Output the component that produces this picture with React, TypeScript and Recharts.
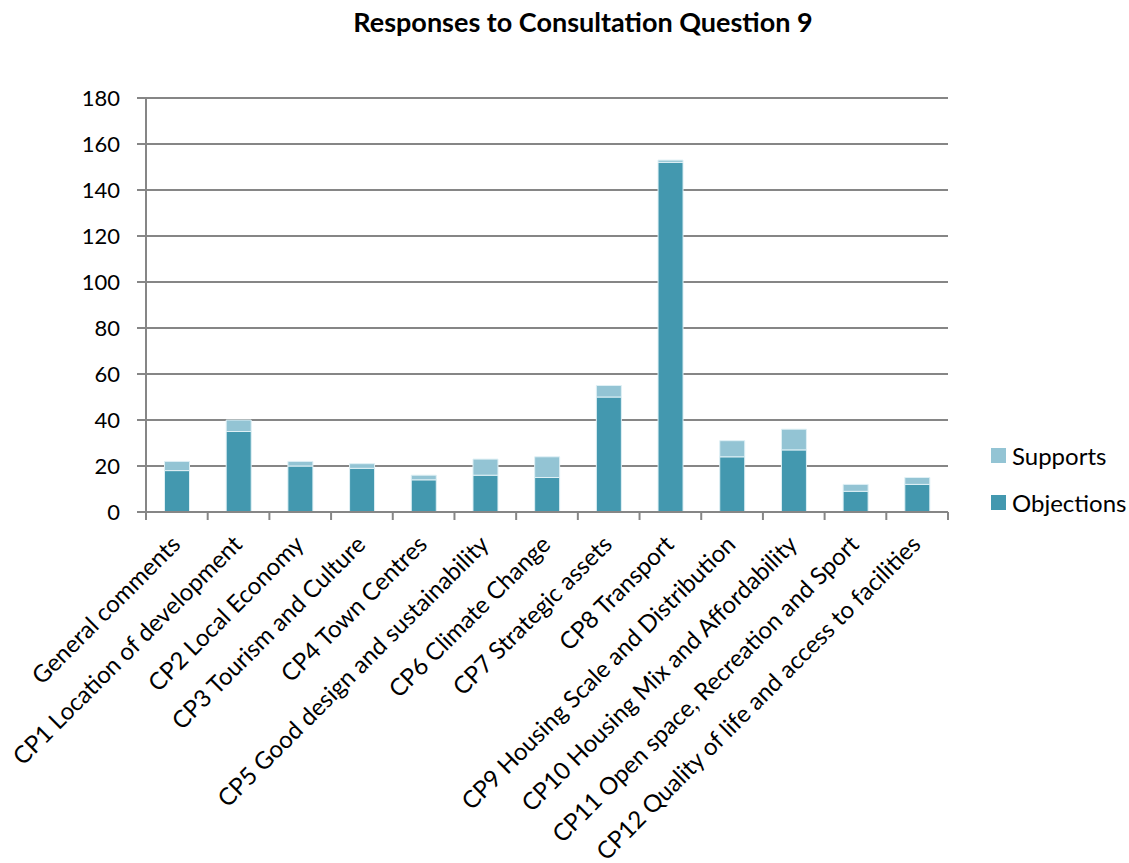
import React from "react";
import { Bar, BarChart, CartesianGrid, XAxis, YAxis } from "recharts";

const CATEGORIES = [
  "General comments",
  "CP1 Location of development",
  "CP2 Local Economy",
  "CP3 Tourism and Culture",
  "CP4 Town Centres",
  "CP5 Good design and sustainability",
  "CP6 Climate Change",
  "CP7 Strategic assets",
  "CP8 Transport",
  "CP9 Housing Scale and Distribution",
  "CP10 Housing Mix and Affordability",
  "CP11 Open space, Recreation and Sport",
  "CP12 Quality of life and access to facilities",
];

const OBJECTIONS = [18, 35, 20, 19, 14, 16, 15, 50, 152, 24, 27, 9, 12];
const SUPPORTS = [4, 5, 2, 2, 2, 7, 9, 5, 1, 7, 9, 3, 3];

const Y_TICKS = [0, 20, 40, 60, 80, 100, 120, 140, 160, 180];

const OBJ_COLOR = "#4398AF";
const SUP_COLOR = "#93C4D4";
const LINE_COLOR = "#868686";
const FONT = "Lato, 'Open Sans', sans-serif";

const PLOT_WIDTH = 802;
const BAND = PLOT_WIDTH / CATEGORIES.length;

const data = CATEGORIES.map((name, i) => ({
  name,
  objections: OBJECTIONS[i],
  supports: SUPPORTS[i],
}));

// Excel-style category tick: marks sit between categories, labels at -45deg
function CategoryTick(props: any) {
  const { x, y, payload, index } = props;
  const last = index === CATEGORIES.length - 1;
  return (
    <g>
      <line
        x1={x - BAND / 2}
        x2={x - BAND / 2}
        y1={y}
        y2={y + 8}
        stroke={LINE_COLOR}
        strokeWidth={2}
      />
      {last && (
        <line
          x1={x + BAND / 2}
          x2={x + BAND / 2}
          y1={y}
          y2={y + 8}
          stroke={LINE_COLOR}
          strokeWidth={2}
        />
      )}
      <text
        transform={`translate(${x + 5},${y + 34}) rotate(-45)`}
        textAnchor="end"
        fontFamily={FONT}
        fontSize={24}
        fill="#000"
      >
        {payload.value}
      </text>
    </g>
  );
}

function SideLegend() {
  const items = [
    { label: "Supports", color: SUP_COLOR },
    { label: "Objections", color: OBJ_COLOR },
  ];
  return (
    <div
      style={{
        position: "absolute",
        left: 991,
        top: 432,
        fontFamily: FONT,
        fontSize: 24,
        color: "#000",
      }}
    >
      {items.map((it) => (
        <div
          key={it.label}
          style={{ display: "flex", alignItems: "center", height: 47 }}
        >
          <span
            style={{
              display: "inline-block",
              width: 15,
              height: 15,
              background: it.color,
              marginRight: 6,
            }}
          />
          {it.label}
        </div>
      ))}
    </div>
  );
}

export default function App() {
  return (
    <div
      style={{
        position: "absolute",
        left: 0,
        top: 0,
        width: 1129,
        height: 863,
        background: "#fff",
      }}
    >
      <div
        style={{
          position: "absolute",
          left: 0,
          top: 5,
          width: 1166,
          textAlign: "center",
          fontFamily: FONT,
          fontWeight: "bold",
          fontSize: 27,
        }}
      >
        Responses to Consultation Question 9
      </div>
      <BarChart
        width={1129}
        height={863}
        data={data}
        margin={{ top: 98, right: 181, bottom: 0, left: 0 }}
        barCategoryGap="30%"
      >
        <CartesianGrid vertical={false} stroke={LINE_COLOR} strokeWidth={2} />
        <XAxis
          dataKey="name"
          interval={0}
          height={351}
          tickLine={false}
          tickSize={0}
          tickMargin={0}
          axisLine={{ stroke: LINE_COLOR, strokeWidth: 2 }}
          tick={<CategoryTick />}
        />
        <YAxis
          width={146}
          domain={[0, 180]}
          ticks={Y_TICKS}
          interval={0}
          tickSize={9}
          tickMargin={17}
          tickLine={{ stroke: LINE_COLOR, strokeWidth: 2 }}
          axisLine={{ stroke: LINE_COLOR, strokeWidth: 2 }}
          tick={{ fill: "#000", fontFamily: FONT, fontSize: 22 }}
        />
        <Bar
          dataKey="objections"
          name="Objections"
          stackId="a"
          fill={OBJ_COLOR}
          stroke="#dff0f5"
          strokeWidth={1}
          isAnimationActive={false}
        />
        <Bar
          dataKey="supports"
          name="Supports"
          stackId="a"
          fill={SUP_COLOR}
          stroke="#dff0f5"
          strokeWidth={1}
          isAnimationActive={false}
        />
      </BarChart>
      <SideLegend />
    </div>
  );
}
